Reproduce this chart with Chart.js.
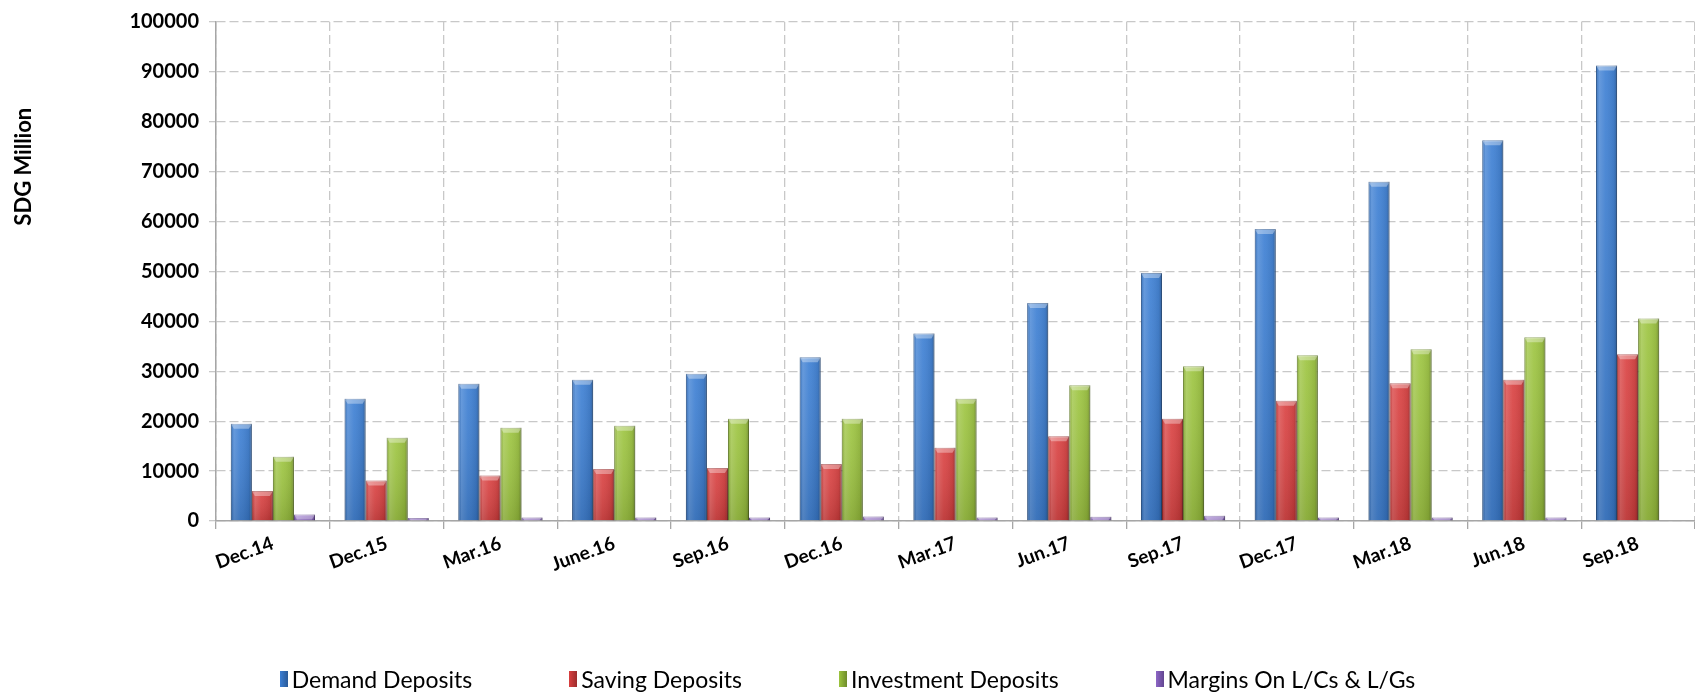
<!DOCTYPE html>
<html>
<head>
<meta charset="utf-8">
<script src="https://cdn.jsdelivr.net/npm/chart.js@4.4.1/dist/chart.umd.min.js"></script>
<style>
    body { margin: 0; background: #fff; }
    #wrap { position: relative; width: 1695px; height: 697px; }
    #legend {
        position: absolute; left: 0; right: 0; top: 665px;
        display: flex; justify-content: center; gap: 97px;
        font-family: 'Lato', sans-serif; font-size: 23px; color: #000;
    }
    #legend span.item { display: flex; align-items: center; }
    #legend i { display: inline-block; width: 8px; height: 16px; margin-right: 4px; }
</style>
</head>
<body>
<div id="wrap">
    <canvas id="depositsChart"></canvas>
    <div id="legend"></div>
</div>
<script>
const periods = ['Dec.14', 'Dec.15', 'Mar.16', 'June.16', 'Sep.16', 'Dec.16', 'Mar.17', 'Jun.17', 'Sep.17', 'Dec.17', 'Mar.18', 'Jun.18', 'Sep.18'];
const demandDeposits = [19500, 24500, 27500, 28300, 29500, 32800, 37600, 43700, 49700, 58500, 68000, 76300, 91300];
const savingDeposits = [6000, 8100, 9100, 10400, 10600, 11400, 14700, 17000, 20500, 24100, 27600, 28300, 33400];
const investmentDeposits = [12900, 16700, 18700, 19100, 20500, 20500, 24500, 27200, 31000, 33200, 34400, 36800, 40600];
const marginsLCsLGs = [1300, 600, 700, 700, 700, 900, 700, 850, 1050, 700, 700, 700, 0];
const seriesNames = ['Demand Deposits', 'Saving Deposits', 'Investment Deposits', 'Margins On L/Cs & L/Gs'];
const seriesColors = ['#3b7ed3', '#d93f3f', '#9cc43e', '#8d66c6'];
const seriesBorders = ['#2a5a98', '#9c2c2c', '#6f8c2c', '#624690'];
const yTitle = 'SDG Million';

const gridColor = '#c8c8c8';
const axisColor = '#a6a6a6';

// gives the bars a bit of the bevelled look of the original
const bevelPlugin = {
    id: 'bevel',
    afterDatasetsDraw(chart) {
        const ctx = chart.ctx;
        chart.data.datasets.forEach((ds, i) => {
            chart.getDatasetMeta(i).data.forEach(bar => {
                const left = bar.x - bar.width / 2;
                const top = Math.min(bar.y, bar.base);
                const h = Math.abs(bar.base - bar.y);
                if (h < 0.5) return;
                ctx.save();
                const g = ctx.createLinearGradient(left, 0, left + bar.width, 0);
                g.addColorStop(0, 'rgba(0,0,0,0.10)');
                g.addColorStop(0.15, 'rgba(255,255,255,0.18)');
                g.addColorStop(0.45, 'rgba(255,255,255,0.05)');
                g.addColorStop(0.85, 'rgba(0,0,0,0.08)');
                g.addColorStop(1, 'rgba(0,0,0,0.28)');
                ctx.fillStyle = g;
                ctx.fillRect(left, top, bar.width, h);
                const v = ctx.createLinearGradient(0, top, 0, top + h);
                v.addColorStop(0, 'rgba(255,255,255,0.05)');
                v.addColorStop(1, 'rgba(0,0,0,0.12)');
                ctx.fillStyle = v;
                ctx.fillRect(left, top, bar.width, h);
                const cap = Math.min(5, h);
                ctx.fillStyle = 'rgba(255,255,255,0.35)';
                ctx.beginPath();
                ctx.moveTo(left, top);
                ctx.lineTo(left + bar.width, top);
                ctx.lineTo(left + bar.width - 3, top + cap);
                ctx.lineTo(left + 3, top + cap);
                ctx.closePath();
                ctx.fill();
                ctx.restore();
            });
        });
    }
};

const yTitlePlugin = {
    id: 'yTitle',
    afterDraw(chart) {
        const ctx = chart.ctx;
        const area = chart.chartArea;
        ctx.save();
        ctx.translate(24, area.top + (area.bottom - area.top) * 0.29);
        ctx.rotate(-Math.PI / 2);
        ctx.font = 'bold 22px Lato';
        ctx.fillStyle = '#000';
        ctx.textAlign = 'center';
        ctx.textBaseline = 'middle';
        ctx.fillText(yTitle, 0, 0);
        ctx.restore();
    }
};

const ctx = document.getElementById('depositsChart').getContext('2d');
const allSeries = [demandDeposits, savingDeposits, investmentDeposits, marginsLCsLGs];

const depositsChart = new Chart(ctx, {
    type: 'bar',
    data: {
        labels: periods,
        datasets: allSeries.map((values, i) => ({
            label: seriesNames[i],
            data: values,
            backgroundColor: seriesColors[i],
            borderColor: seriesBorders[i],
            borderWidth: 1,
            categoryPercentage: 0.74,
            barPercentage: 1
        }))
    },
    options: {
        responsive: true,
        maintainAspectRatio: false,
        animation: false,
        layout: { padding: { top: 18, right: 0, left: 0, bottom: 0 } },
        plugins: {
            legend: { display: false },
            tooltip: { enabled: false }
        },
        scales: {
            x: {
                afterFit(scale) { scale.height = 176; },
                grid: {
                    color: gridColor,
                    lineWidth: 1.3,
                    tickLength: 8,
                    tickColor: axisColor,
                    offset: true
                },
                border: { color: axisColor, width: 1.5, dash: [9, 4] },
                ticks: {
                    color: '#000',
                    font: { family: 'Lato', size: 19, weight: 'bold' },
                    minRotation: 20,
                    maxRotation: 20,
                    padding: 3
                }
            },
            y: {
                min: 0,
                max: 100000,
                afterFit(scale) { scale.width = 216; },
                grid: {
                    color: gridColor,
                    lineWidth: 1.3,
                    tickLength: 7,
                    tickColor: gridColor
                },
                border: { color: axisColor, width: 1.5, dash: [9, 4] },
                ticks: {
                    stepSize: 10000,
                    color: '#000',
                    font: { family: 'Lato', size: 20, weight: 'bold' },
                    padding: 10,
                    callback: v => String(v)
                }
            }
        }
    },
    plugins: [bevelPlugin, yTitlePlugin]
});

// legend below the plot
const legendEl = document.getElementById('legend');
seriesNames.forEach((name, i) => {
    const item = document.createElement('span');
    item.className = 'item';
    const box = document.createElement('i');
    box.style.background = 'linear-gradient(to right, ' + seriesColors[i] + ', ' + seriesBorders[i] + ')';
    item.appendChild(box);
    item.appendChild(document.createTextNode(name));
    legendEl.appendChild(item);
});
</script>
</body>
</html>
